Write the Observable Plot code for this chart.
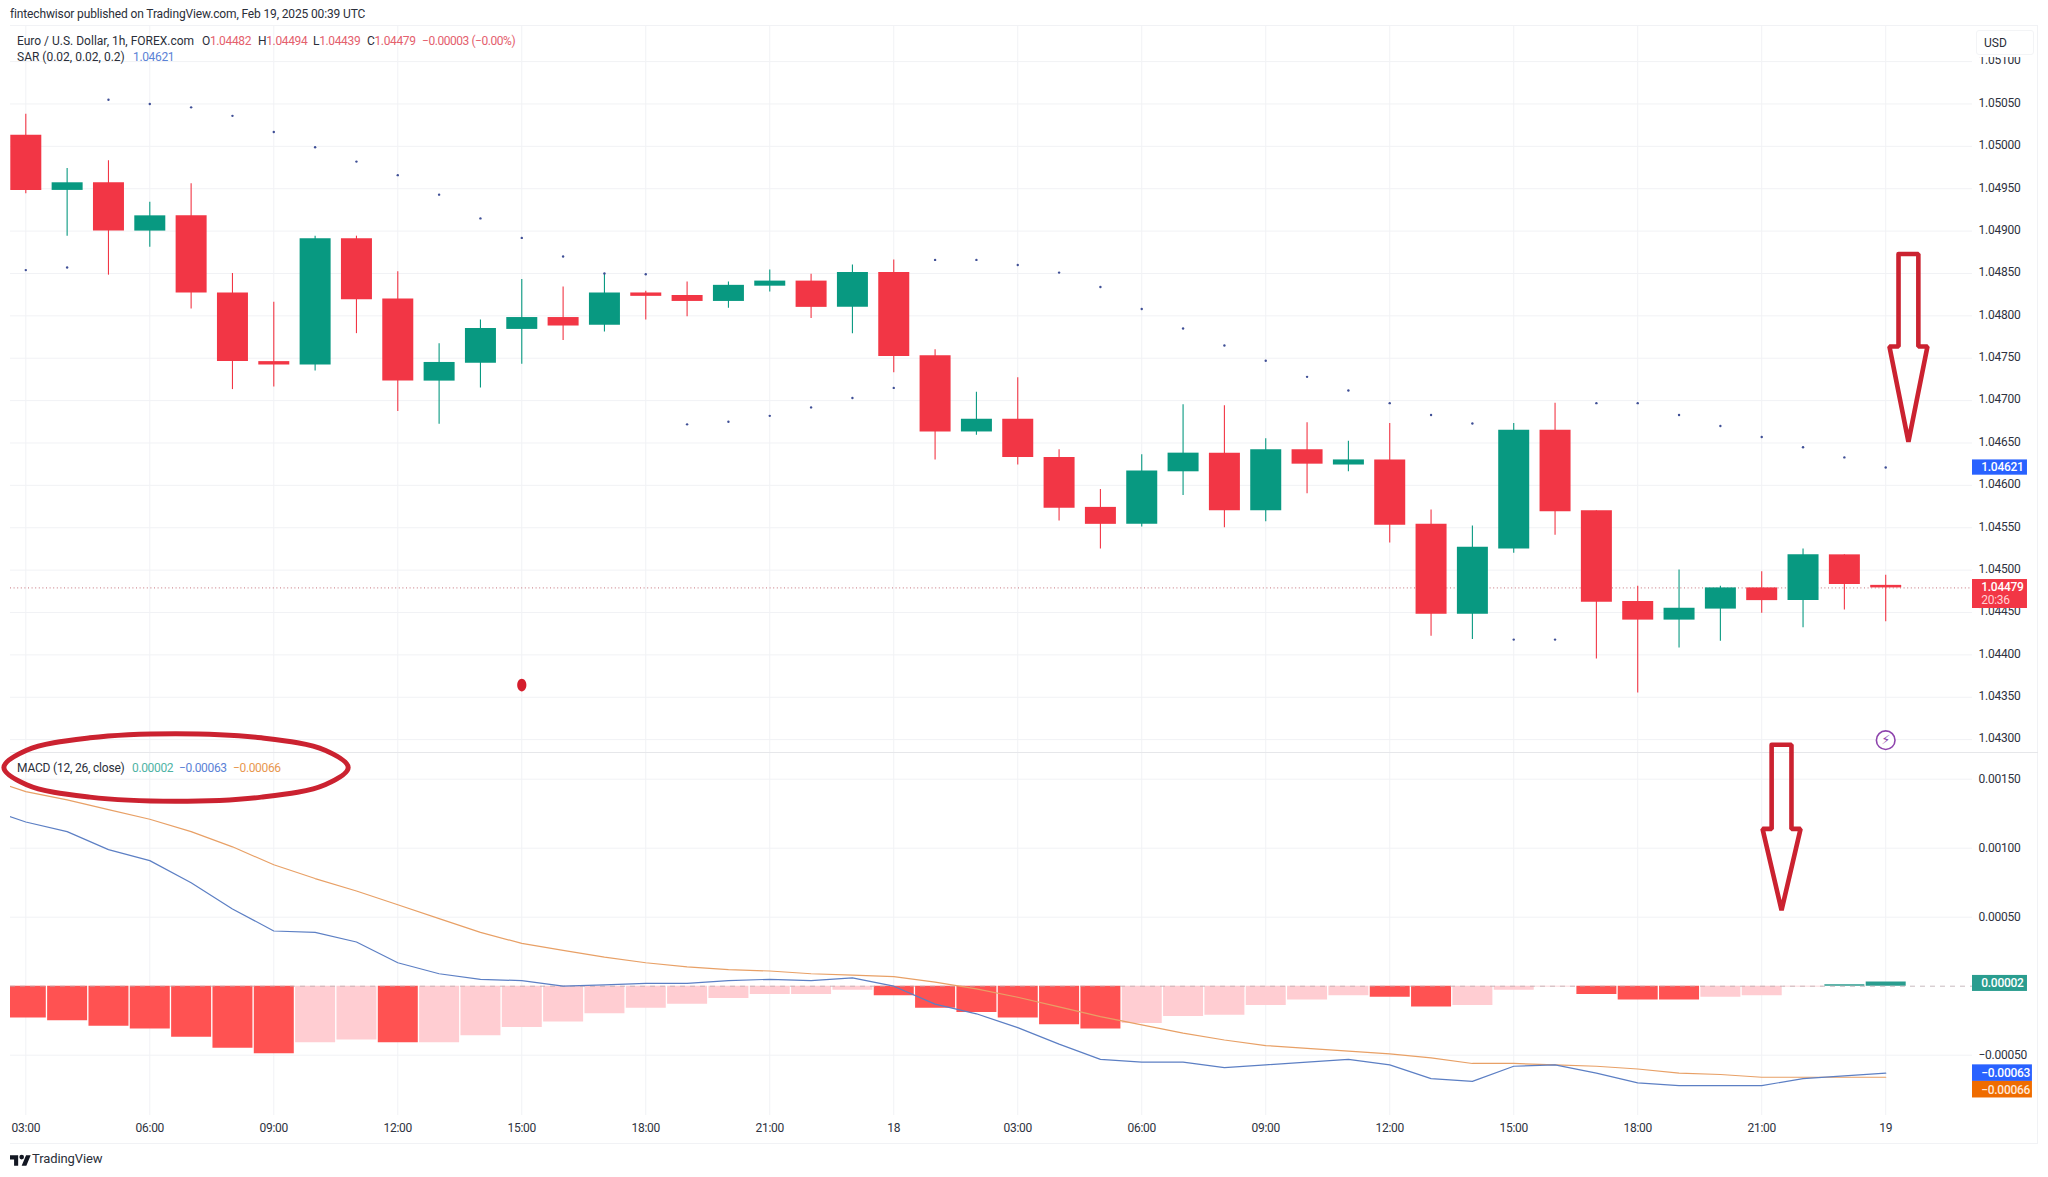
<!DOCTYPE html>
<html>
<head>
<meta charset="utf-8">
<script src="https://cdn.jsdelivr.net/npm/d3@7"></script>
<script src="https://cdn.jsdelivr.net/npm/@observablehq/plot@0.6"></script>
<style>
  html,body{margin:0;padding:0;background:#fff;}
  #stage{position:relative;width:2048px;height:1177px;overflow:hidden;background:#fff;font-family:Roboto,sans-serif;color:#2a2e39;}
  #stage svg{position:absolute;left:0;overflow:visible;background:transparent;}
  .t{position:absolute;white-space:nowrap;font-size:12px;line-height:14px;letter-spacing:0;}
  .n{letter-spacing:-0.35px;}
  .b{position:absolute;background:#f1f2f5;}
</style>
</head>
<body>
<div id="stage"></div>
<script>
// ---------- chart data ----------
const highs = [1.05038,1.04974,1.04983,1.04934,1.04956,1.04850,1.04816,1.04894,1.04894,1.04852,1.04767,1.04795,1.04843,1.04834,1.04850,1.04829,1.04840,1.04840,1.04854,1.04849,1.04860,1.04866,1.04760,1.04710,1.04727,1.04642,1.04595,1.04636,1.04695,1.04694,1.04655,1.04674,1.04652,1.04673,1.04571,1.04552,1.04673,1.04697,1.04570,1.04481,1.04500,1.04481,1.04498,1.04525,1.04518,1.04494];
const opens = [1.05013,1.04948,1.04957,1.04900,1.04918,1.04827,1.04746,1.04742,1.04891,1.04820,1.04723,1.04744,1.04784,1.04798,1.04789,1.04827,1.04824,1.04817,1.04835,1.04841,1.04810,1.04851,1.04753,1.04663,1.04678,1.04633,1.04574,1.04554,1.04616,1.04638,1.04570,1.04642,1.04624,1.04630,1.04554,1.04448,1.04525,1.04665,1.04570,1.04463,1.04441,1.04454,1.04479,1.04464,1.04518,1.04482];
const lows = [1.04944,1.04894,1.04848,1.04881,1.04808,1.04713,1.04716,1.04735,1.04779,1.04687,1.04672,1.04715,1.04743,1.04771,1.04781,1.04795,1.04799,1.04809,1.04828,1.04797,1.04779,1.04733,1.04630,1.04659,1.04624,1.04558,1.04525,1.04551,1.04588,1.04550,1.04557,1.04590,1.04616,1.04532,1.04422,1.04418,1.04520,1.04541,1.04395,1.04355,1.04408,1.04416,1.04449,1.04432,1.04453,1.04439];
const closes = [1.04948,1.04957,1.04900,1.04918,1.04827,1.04746,1.04742,1.04891,1.04819,1.04723,1.04745,1.04785,1.04798,1.04788,1.04827,1.04823,1.04817,1.04836,1.04841,1.04810,1.04851,1.04752,1.04663,1.04678,1.04633,1.04573,1.04554,1.04617,1.04638,1.04570,1.04642,1.04625,1.04630,1.04553,1.04448,1.04527,1.04665,1.04569,1.04462,1.04441,1.04455,1.04479,1.04464,1.04518,1.04483,1.04479];
const sar = [1.04854,1.04857,1.05055,1.05050,1.05046,1.05036,1.05017,1.04999,1.04982,1.04966,1.04943,1.04915,1.04892,1.04870,1.04850,1.04849,1.04672,1.04675,1.04682,1.04692,1.04703,1.04715,1.04866,1.04866,1.04860,1.04851,1.04834,1.04808,1.04785,1.04765,1.04747,1.04728,1.04712,1.04697,1.04683,1.04673,1.04418,1.04418,1.04697,1.04697,1.04683,1.04670,1.04657,1.04645,1.04633,1.04621];
const histogram = [-0.00023,-0.00025,-0.00029,-0.00031,-0.00037,-0.00045,-0.00049,-0.00041,-0.00039,-0.00041,-0.00041,-0.00036,-0.00030,-0.00026,-0.00020,-0.00016,-0.00013,-0.00009,-0.00006,-0.00006,-0.00003,-0.00007,-0.00016,-0.00019,-0.00023,-0.00028,-0.00031,-0.00027,-0.00022,-0.00021,-0.00014,-0.00010,-0.00007,-0.00008,-0.00015,-0.00014,-0.00003,-0.000005,-0.00006,-0.00010,-0.00010,-0.00008,-0.00007,-0.000005,0.00001,0.00003];
const histogramDark = [1,1,1,1,1,1,1,0,0,1,0,0,0,0,0,0,0,0,0,0,0,1,1,1,1,1,1,0,0,0,0,0,0,1,1,0,0,0,1,1,1,0,0,0,1,1];
// the MACD and signal lists start one bar before the first candle (index -1)
const macdLine = [0.00129,0.00119,0.00112,0.00099,0.00091,0.00075,0.00056,0.00040,0.00039,0.00032,0.00017,0.00009,0.00005,0.00004,0.00000,0.00001,0.00002,0.00002,0.00004,0.00005,0.00004,0.00006,0.00000,-0.00013,-0.00020,-0.00030,-0.00042,-0.00053,-0.00055,-0.00055,-0.00059,-0.00057,-0.00055,-0.00053,-0.00057,-0.00067,-0.00069,-0.00058,-0.00057,-0.00063,-0.00070,-0.00072,-0.00072,-0.00072,-0.00067,-0.00065,-0.00063];
const signalLine = [0.00151,0.00141,0.00135,0.00128,0.00121,0.00112,0.00101,0.00088,0.00078,0.00069,0.00059,0.00049,0.00039,0.00031,0.00026,0.00021,0.00017,0.00014,0.00012,0.00011,0.00009,0.00008,0.00007,0.00003,-0.00002,-0.00008,-0.00015,-0.00022,-0.00028,-0.00034,-0.00039,-0.00043,-0.00045,-0.00047,-0.00049,-0.00052,-0.00056,-0.00056,-0.00057,-0.00058,-0.00060,-0.00063,-0.00064,-0.00066,-0.00066,-0.00066,-0.00066];
const timeTicks = [0,3,6,9,12,15,18,21,24,27,30,33,36,39,42,45];
const timeLabels = ["03:00","06:00","09:00","12:00","15:00","18:00","21:00","18","03:00","06:00","09:00","12:00","15:00","18:00","21:00","19"];
const priceTicks = [1.051,1.0505,1.05,1.0495,1.049,1.0485,1.048,1.0475,1.047,1.0465,1.046,1.0455,1.045,1.0445,1.044,1.0435,1.043];
const macdTicks = [0.0015,0.001,0.0005,-0.0005];
const lastPrice = 1.04479;
const sarLast = 1.04621;
const histLast = 0.00002;
// hand-drawn annotations, in data units
const arrow1X = [45.31,45.79,45.79,46.01,45.55,45.09,45.31,45.31];
const arrow1P = [1.04873,1.04873,1.047639,1.047639,1.046515,1.047639,1.047639,1.04873];
const arrow2X = [42.24,42.72,42.72,42.94,42.48,42.02,42.24,42.24];
const arrow2V = [0.00175,0.00175,0.00114,0.00114,0.00055,0.00114,0.00114,0.00175];
const ellipseX = [7.80,7.24,5.70,3.63,1.55,0.02,-0.53,0.02,1.55,3.63,5.70,7.24];
const ellipseV = [0.001585,0.00146,0.00137,0.00134,0.00137,0.00146,0.001585,0.00171,0.0018,0.00183,0.0018,0.00171];

// ---------- tables ----------
const GREEN="#089981", RED="#f23645", GRID="#f1f2f5", INK="#2e3240";
const candles = closes.map((c,i)=>({i,open:opens[i],close:c,high:highs[i],low:lows[i],color:c>=opens[i]?GREEN:RED}));
const sarPts = sar.map((v,i)=>({i,v}));
const histPts = histogram.map((v,i)=>({i,v,color:v>0?"#2a9d8f":(histogramDark[i]?"#ff5252":"#ffcdd2")}));
const macdPts = macdLine.map((v,k)=>({i:k-1,v}));
const sigPts = signalLine.map((v,k)=>({i:k-1,v}));
const toPts = (xs,ys)=>xs.map((x,k)=>({x,y:ys[k]}));

const xDomain=[-0.3702,47.10], tagEnd1=48.43, tagEnd2=48.55, labelX=47.31;
const fmt=d3.format(".5f");
const axisStyle={fontFamily:"Roboto, sans-serif",fontSize:"12px",color:INK,letterSpacing:"-0.25px",background:"transparent"};
// a slightly tall oval for the stray red marker
const ovalSymbol={draw(c,s){const rx=Math.sqrt(s/Math.PI),ry=rx*1.36,k=.5523;
  c.moveTo(0,-ry);c.bezierCurveTo(k*rx,-ry,rx,-k*ry,rx,0);c.bezierCurveTo(rx,k*ry,k*rx,ry,0,ry);
  c.bezierCurveTo(-k*rx,ry,-rx,k*ry,-rx,0);c.bezierCurveTo(-rx,-k*ry,-k*rx,-ry,0,-ry);c.closePath();}};

const pricePlot = Plot.plot({
  width:2048,height:753,marginLeft:10,marginRight:76,marginTop:26,marginBottom:1,
  style:axisStyle,
  x:{domain:xDomain,axis:null},
  y:{domain:[1.042848,1.051414],axis:null},
  color:{type:"identity"},
  marks:[
    Plot.gridX(timeTicks,{stroke:GRID,strokeOpacity:1}),
    Plot.gridY(priceTicks,{stroke:GRID,strokeOpacity:1}),
    Plot.ruleY([lastPrice],{stroke:"#b8505c",strokeDasharray:"1,2.6",strokeOpacity:.8,x1:xDomain[0],x2:tagEnd1}),
    Plot.ruleX(candles,{x:"i",y1:"low",y2:"high",stroke:"color",strokeWidth:1.1}),
    Plot.ruleX(candles,{x:"i",y1:"open",y2:"close",stroke:"color",strokeWidth:31}),
    Plot.dot(sarPts,{x:"i",y:"v",r:1.2,fill:"#3f4f96",stroke:"none"}),
    Plot.axisY(priceTicks,{anchor:"right",tickSize:0,tickPadding:6,tickFormat:fmt,label:null,fontSize:12,dy:-1}),
    Plot.rect([sarLast],{x1:()=>xDomain[1],x2:()=>tagEnd1,y1:d=>d+0.00009,y2:d=>d-0.00009,fill:"#2962ff"}),
    Plot.text([sarLast],{x:()=>labelX,y:d=>d,text:d=>fmt(d),textAnchor:"start",fill:"#fff",fontSize:12,fontWeight:500,dy:-0.5}),
    Plot.rect([lastPrice],{x1:()=>xDomain[1],x2:()=>tagEnd1,y1:()=>1.044889,y2:()=>1.044547,fill:RED}),
    Plot.text([lastPrice],{x:()=>labelX,y:()=>1.044785,text:d=>fmt(d),textAnchor:"start",fill:"#fff",fontSize:12,fontWeight:500,dy:-1}),
    Plot.text(["20:36"],{x:()=>labelX,y:()=>1.044632,text:d=>d,textAnchor:"start",fill:"#ffd0d4",fontSize:12,dy:-1}),
    Plot.dot([12],{x:d=>d,y:()=>1.043643,r:4.6,fill:"#d51d2c",stroke:"none",symbol:ovalSymbol}),
    Plot.dot([45],{x:d=>d,y:()=>1.042993,r:9.3,fill:"#fff",stroke:"#8e44ad",strokeWidth:1.6}),
    Plot.text(["⚡"],{x:()=>45,y:()=>1.042993,text:d=>d,fill:"#8e44ad",fontSize:13,fontFamily:"DejaVu Sans"}),
    Plot.line(toPts(arrow1X,arrow1P),{x:"x",y:"y",stroke:"#cb2230",strokeWidth:4.6,strokeLinejoin:"miter"})
  ]
});
pricePlot.style.top="0px";

const macdPlot = Plot.plot({
  width:2048,height:424,marginLeft:10,marginRight:76,marginTop:0,marginBottom:62,
  style:axisStyle,
  x:{domain:xDomain,axis:null},
  y:{domain:[-0.000937,0.0016862],axis:null},
  color:{type:"identity"},
  marks:[
    Plot.gridX(timeTicks,{stroke:GRID,strokeOpacity:1}),
    Plot.gridY(macdTicks,{stroke:GRID,strokeOpacity:1}),
    Plot.ruleX(histPts,{x:"i",y1:()=>0,y2:"v",stroke:"color",strokeWidth:40,clip:true}),
    Plot.ruleY([0],{stroke:"#b9a9ae",strokeDasharray:"5,5",strokeWidth:1,strokeOpacity:.8}),
    Plot.line(sigPts,{x:"i",y:"v",stroke:"#e8a066",strokeWidth:1.2,clip:true}),
    Plot.line(macdPts,{x:"i",y:"v",stroke:"#5c7fc4",strokeWidth:1.2,clip:true}),
    Plot.axisY(macdTicks,{anchor:"right",tickSize:0,tickPadding:6,tickFormat:fmt,label:null,fontSize:12,dy:-0.5}),
    Plot.axisX(timeTicks,{anchor:"bottom",tickSize:0,tickPadding:8,tickFormat:(d)=>timeLabels[timeTicks.indexOf(d)],label:null,fontSize:12}),
    Plot.rect([histLast],{x1:()=>xDomain[1],x2:()=>tagEnd1,y1:d=>d+0.000058,y2:d=>d-0.000058,fill:"#2a9d8f"}),
    Plot.text([histLast],{x:()=>labelX,y:d=>d,text:d=>fmt(d),textAnchor:"start",fill:"#fff",fontSize:12,fontWeight:500,dy:-0.5}),
    Plot.rect([macdLine[46]],{x1:()=>xDomain[1],x2:()=>tagEnd2,y1:()=>-0.00057,y2:()=>-0.00069,fill:"#2962ff"}),
    Plot.text([macdLine[46]],{x:()=>labelX,y:d=>d,text:d=>fmt(d),textAnchor:"start",fill:"#fff",fontSize:12,fontWeight:500}),
    Plot.rect([signalLine[46]],{x1:()=>xDomain[1],x2:()=>tagEnd2,y1:()=>-0.00069,y2:()=>-0.00081,fill:"#ef6c00"}),
    Plot.text([signalLine[46]],{x:()=>labelX,y:()=>-0.000755,text:d=>fmt(d),textAnchor:"start",fill:"#ffe7d4",fontSize:12,fontWeight:500}),
    Plot.line(toPts(arrow2X,arrow2V),{x:"x",y:"y",stroke:"#cb2230",strokeWidth:4.6,strokeLinejoin:"miter"}),
    Plot.line(toPts(ellipseX,ellipseV),{x:"x",y:"y",stroke:"#cb2230",strokeWidth:5,curve:"catmull-rom-closed"})
  ]
});
macdPlot.style.top="753px";

const stage=document.getElementById("stage");
function add(html){const d=document.createElement("div");d.innerHTML=html;while(d.firstChild)stage.appendChild(d.firstChild);}
add('<div class="b" style="left:10px;top:25px;width:2028px;height:1px"></div>');
add('<div class="b" style="left:2037px;top:25px;width:1px;height:1118px"></div>');
add('<div class="b" style="left:10px;top:1143px;width:2028px;height:1px"></div>');
add('<div class="b" style="left:10px;top:752px;width:2028px;height:1px;background:#e6e7ea"></div>');
stage.appendChild(pricePlot);
stage.appendChild(macdPlot);

const R="#e4606d",BL="#5b82d6",GR="#4fb3a4",OR="#e8974f";
add('<div class="t" style="left:10px;top:7px;letter-spacing:-0.14px">fintechwisor published on TradingView.com, Feb 19, 2025 00:39 UTC</div>');
add('<div class="t" style="left:17px;top:34px">Euro / U.S. Dollar, 1h, FOREX.com</div>');
add(`<div class="t n" style="left:202px;top:34px">O<span style="color:${R}">1.04482</span></div>`);
add(`<div class="t n" style="left:258px;top:34px">H<span style="color:${R}">1.04494</span></div>`);
add(`<div class="t n" style="left:313px;top:34px">L<span style="color:${R}">1.04439</span></div>`);
add(`<div class="t n" style="left:367px;top:34px">C<span style="color:${R}">1.04479</span></div>`);
add(`<div class="t" style="left:422px;top:34px;color:${R};letter-spacing:-0.45px">−0.00003 (−0.00%)</div>`);
add('<div class="t" style="left:17px;top:50px">SAR (0.02, 0.02, 0.2)</div>');
add(`<div class="t n" style="left:133px;top:50px;color:${BL}">1.04621</div>`);
add('<div class="t" style="left:17px;top:761px;letter-spacing:-0.2px">MACD (12, 26, close)</div>');
add(`<div class="t n" style="left:132px;top:761px;color:${GR}">0.00002</div>`);
add(`<div class="t n" style="left:179px;top:761px;color:${BL}">−0.00063</div>`);
add(`<div class="t n" style="left:233px;top:761px;color:${OR}">−0.00066</div>`);
add('<div class="t" style="left:1975px;top:28px;width:60px;height:29px;background:#fff;"></div>');
add('<div class="t" style="left:1976px;top:30px;width:56px;height:23px;background:#fff;border:1px solid #f3f4f6;border-radius:3px;"><span style="position:absolute;left:7px;top:5px;">USD</span></div>');
add('<svg viewBox="0 0 36 24" style="left:10px;top:1153px;width:21px;height:14px"><path d="M14 22H7V11H0V4h14v18zM28 22h-8l7.5-18h8L28 22z" fill="#131722"/><circle cx="20" cy="7" r="4" fill="#131722"/></svg>');
add('<div class="t" style="left:32px;top:1152px;font-size:13px;letter-spacing:-0.1px">TradingView</div>');
</script>
</body>
</html>
